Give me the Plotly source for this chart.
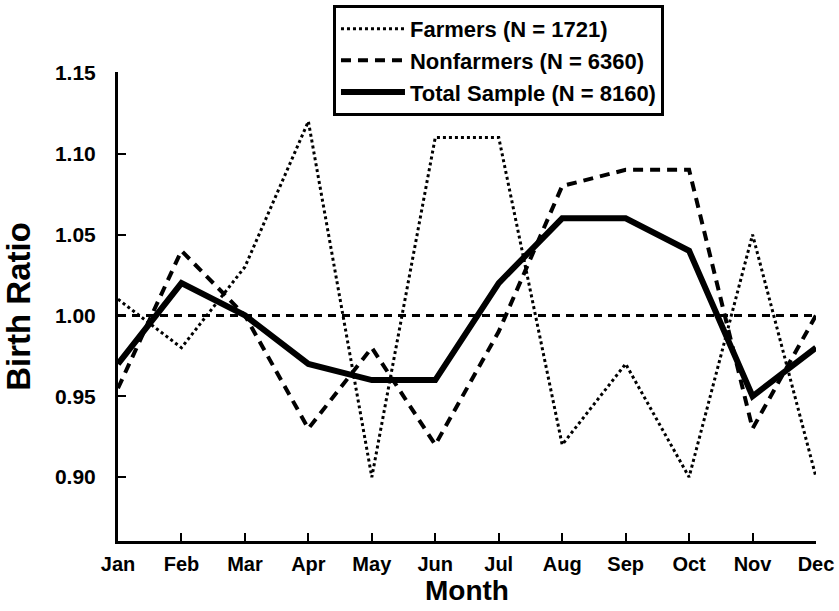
import plotly.graph_objects as go

months = ["Jan", "Feb", "Mar", "Apr", "May", "Jun", "Jul", "Aug", "Sep", "Oct", "Nov", "Dec"]
farmers = [1.01, 0.98, 1.03, 1.12, 0.90, 1.11, 1.11, 0.92, 0.97, 0.90, 1.05, 0.90]
nonfarmers = [0.955, 1.04, 1.00, 0.93, 0.98, 0.92, 0.99, 1.08, 1.09, 1.09, 0.93, 1.00]
total = [0.97, 1.02, 1.00, 0.97, 0.96, 0.96, 1.02, 1.06, 1.06, 1.04, 0.95, 0.98]
reference = 1.00
y_ticks = [0.90, 0.95, 1.00, 1.05, 1.10, 1.15]

FONT = "Liberation Sans"

fig = go.Figure()
fig.add_trace(go.Scatter(x=months, y=farmers, mode="lines", name="Farmers (N = 1721)",
                         line=dict(color="black", width=3, dash="3px,3px")))
fig.add_trace(go.Scatter(x=months, y=nonfarmers, mode="lines", name="Nonfarmers (N = 6360)",
                         line=dict(color="black", width=4, dash="10px,7px")))
fig.add_trace(go.Scatter(x=months, y=total, mode="lines", name="Total Sample (N = 8160)",
                         line=dict(color="black", width=6)))
fig.add_hline(y=reference, line=dict(color="black", width=3, dash="8px,6px"))

fig.update_layout(
    width=839, height=611,
    margin=dict(l=118, r=23, t=72, b=70, autoexpand=False),
    paper_bgcolor="white", plot_bgcolor="white",
    font=dict(family=FONT, color="black", size=20, weight="bold"),
    showlegend=True,
    legend=dict(x=0.308, y=1.143, xanchor="left", yanchor="top",
                bordercolor="black", borderwidth=3, bgcolor="white",
                font=dict(family=FONT, size=22, weight="bold", color="black"),
                itemwidth=64),
    xaxis=dict(range=[0, 11], showline=True, linewidth=3, linecolor="black",
               ticks="inside", ticklen=8, tickwidth=2, tickcolor="black",
               showgrid=False, zeroline=False, ticklabelstandoff=3,
               tickfont=dict(family=FONT, size=20, weight="bold"),
               title=dict(text="Month", font=dict(family=FONT, size=28, weight="bold"), standoff=2)),
    yaxis=dict(range=[0.8605, 1.1505], showline=True, linewidth=3, linecolor="black",
               ticks="inside", ticklen=8, tickwidth=2, tickcolor="black",
               tickvals=y_ticks, tickformat=".2f",
               showgrid=False, zeroline=False, ticklabelstandoff=15,
               tickfont=dict(family=FONT, size=21, weight="bold"),
               title=dict(text="Birth Ratio", font=dict(family=FONT, size=33, weight="bold"), standoff=16)),
)

fig.write_html("out.html", config={"displayModeBar": False},
               post_script="document.body.style.margin='0';")
